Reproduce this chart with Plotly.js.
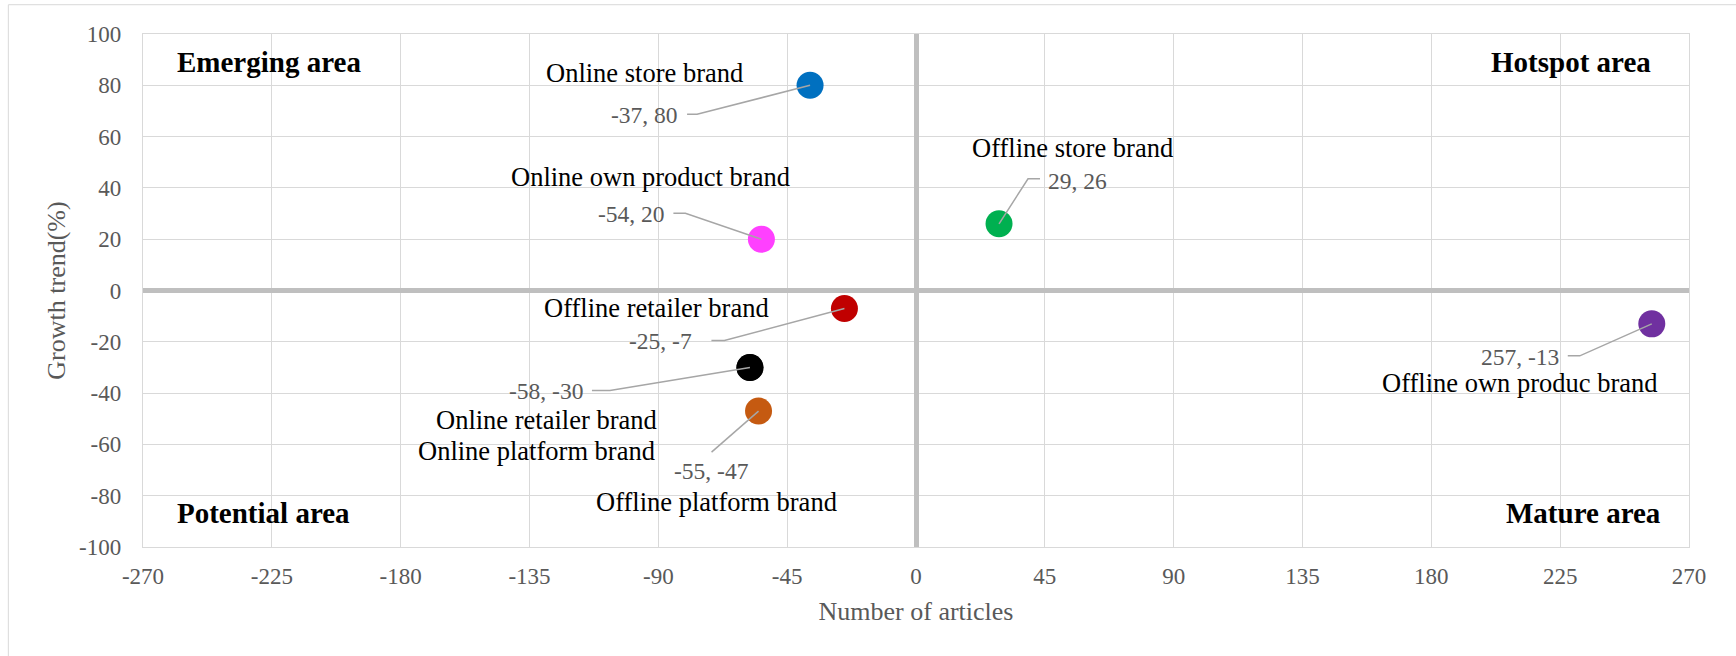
<!DOCTYPE html>
<html><head><meta charset="utf-8">
<script src="https://cdn.plot.ly/plotly-3.0.1.min.js"></script>
<style>html,body{margin:0;padding:0;background:#fff;}#chart{width:1736px;height:656px;}</style>
</head><body><div id="chart"></div>
<script>
// ---- data ----
const categories = ["Online store brand", "Online own product brand", "Offline store brand", "Offline retailer brand",
                    "Online platform brand", "Online retailer brand", "Offline platform brand", "Offline own produc brand"];
const articles = [-37, -54, 29, -25, -58, -58, -55, 257];
const growth   = [80, 20, 26, -7, -30, -30, -47, -13];
const showValueLabel = [true, true, true, true, false, true, true, true];
const xTickVals = [-270, -225, -180, -135, -90, -45, 0, 45, 90, 135, 180, 225, 270];
const xTickLabels = ["-270", "-225", "-180", "-135", "-90", "-45", "0", "45", "90", "135", "180", "225", "270"];
const yTickVals = [-100, -80, -60, -40, -20, 0, 20, 40, 60, 80, 100];
const yTickLabels = ["-100", "-80", "-60", "-40", "-20", "0", "20", "40", "60", "80", "100"];
const areaNames = ["Emerging area", "Hotspot area", "Potential area", "Mature area"];
const xTitle = "Number of articles";
const yTitle = "Growth trend(%)";

// ---- styles / placement ----
const pointColors = ["#0070C0", "#FF40FF", "#00B050", "#C00000", "#1A1A1A", "#000000", "#C55A11", "#7030A0"];
// pixel offsets from each point (dx right, dy down)
const labelPlacement = [
  {name: [-166, -12], value: [-166, 30], leader: [[-123, 29], [-113, 29]]},
  {name: [-111, -62], value: [-130, -25], leader: [[-88, -26], [-76, -26]]},
  {name: [73, -76],   value: [78, -43],   leader: [[41, -45], [29, -45]]},
  {name: [-188, 0],   value: [-184, 33],  leader: [[-133, 32], [-120, 32]]},
  {name: [-213, 84],  value: null,        leader: null},
  {name: [-203, 53],  value: [-204, 24],  leader: [[-158, 23], [-140, 23]]},
  {name: [-42, 91],   value: [-47, 60],   leader: [[-47, 41]]},
  {name: [-132, 59],  value: [-132, 33],  leader: [[-84, 32], [-72, 32]]}
];
const areaPlacement = [
  {x: 0.0205, y: 0.946, xanchor: "left"},
  {x: 0.977, y: 0.946, xanchor: "right"},
  {x: 0.0205, y: 0.0657, xanchor: "left"},
  {x: 0.983, y: 0.0657, xanchor: "right"}
];
const FONT = '"Liberation Serif", "Times New Roman", Times, serif';
const GRAY = "#595959";

const trace = {
  type: "scatter", mode: "markers",
  x: articles, y: growth, text: categories,
  marker: {size: 27, color: pointColors, line: {width: 0}},
  hoverinfo: "text+x+y"
};

const annotations = [];
const shapes = [];
categories.forEach((c, i) => {
  const p = labelPlacement[i];
  annotations.push({
    x: articles[i], y: growth[i], xref: "x", yref: "y", text: c, showarrow: false,
    xshift: p.name[0], yshift: -p.name[1], xanchor: "center", yanchor: "middle",
    font: {family: FONT, size: 26.5, color: "#000000"}
  });
  if (showValueLabel[i] && p.value) {
    annotations.push({
      x: articles[i], y: growth[i], xref: "x", yref: "y", text: articles[i] + ", " + growth[i], showarrow: false,
      xshift: p.value[0], yshift: -p.value[1], xanchor: "center", yanchor: "middle",
      font: {family: FONT, size: 23.5, color: GRAY}
    });
  }
  if (p.leader) {
    let path = "M" + p.leader[0][0] + "," + (-p.leader[0][1]);
    for (let k = 1; k < p.leader.length; k++) path += " L" + p.leader[k][0] + "," + (-p.leader[k][1]);
    path += " L0,0";
    shapes.push({
      type: "path", xref: "x", yref: "y", xsizemode: "pixel", ysizemode: "pixel",
      xanchor: articles[i], yanchor: growth[i], path: path,
      line: {color: "#A6A6A6", width: 1.5}, layer: "above"
    });
  }
});
areaNames.forEach((a, i) => {
  const p = areaPlacement[i];
  annotations.push({
    x: p.x, y: p.y, xref: "paper", yref: "paper", text: "<b>" + a + "</b>", showarrow: false,
    xanchor: p.xanchor, yanchor: "middle", font: {family: FONT, size: 29, color: "#000000"}
  });
});
// outer chart frame
shapes.push({type: "rect", xref: "paper", yref: "paper", x0: -0.0871, x1: 1.04, y0: -0.25, y1: 1.0571,
  line: {color: "#D9D9D9", width: 1}, layer: "below"});

const layout = {
  width: 1736, height: 656,
  margin: {l: 143, r: 47, t: 34, b: 109},
  paper_bgcolor: "#ffffff", plot_bgcolor: "#ffffff",
  font: {family: FONT, color: GRAY},
  showlegend: false,
  xaxis: {
    range: [-270, 270], tickmode: "array", tickvals: xTickVals, ticktext: xTickLabels,
    showgrid: true, gridcolor: "#D9D9D9", gridwidth: 1.3,
    zeroline: true, zerolinecolor: "#BFBFBF", zerolinewidth: 4.5,
    showline: true, mirror: true, linecolor: "#D9D9D9", linewidth: 1.3,
    ticks: "", ticklabelstandoff: 8, tickfont: {family: FONT, size: 23, color: GRAY},
    title: {text: xTitle, font: {family: FONT, size: 26, color: GRAY}, standoff: 14},
    fixedrange: true
  },
  yaxis: {
    range: [-100, 100], tickmode: "array", tickvals: yTickVals, ticktext: yTickLabels,
    showgrid: true, gridcolor: "#D9D9D9", gridwidth: 1.3,
    zeroline: true, zerolinecolor: "#BFBFBF", zerolinewidth: 4.5,
    showline: true, mirror: true, linecolor: "#D9D9D9", linewidth: 1.3,
    ticks: "", ticklabelstandoff: 16, tickfont: {family: FONT, size: 23, color: GRAY},
    title: {text: yTitle, font: {family: FONT, size: 26, color: GRAY}, standoff: 5},
    fixedrange: true
  },
  annotations: annotations,
  shapes: shapes
};

Plotly.newPlot("chart", [trace], layout, {displayModeBar: false, staticPlot: false});
</script>
</body></html>
